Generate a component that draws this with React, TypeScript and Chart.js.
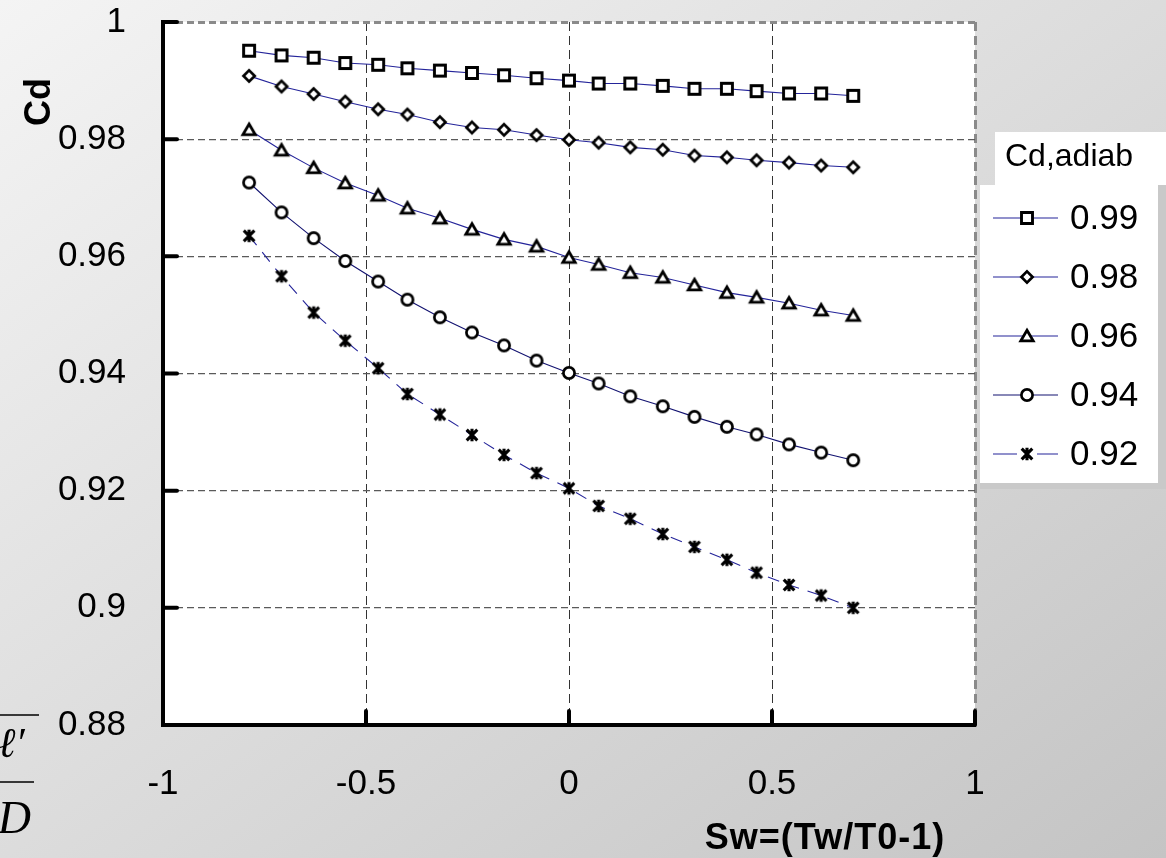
import React, { useEffect, useRef } from 'react';
import { Chart, registerables } from 'chart.js';

Chart.register(...registerables);

// ---- data ----
const xValues = [-0.788, -0.708, -0.629, -0.551, -0.47, -0.398, -0.318, -0.239, -0.16, -0.08, 0, 0.073, 0.151, 0.231, 0.309, 0.389, 0.462, 0.542, 0.621, 0.7];
const cd099 = [0.9951, 0.9943, 0.9939, 0.993, 0.9927, 0.9921, 0.9917, 0.9913, 0.9909, 0.9904, 0.99, 0.9895, 0.9895, 0.9891, 0.9886, 0.9886, 0.9882, 0.9878, 0.9878, 0.9874];
const cd098 = [0.9908, 0.989, 0.9877, 0.9864, 0.9851, 0.9842, 0.9829, 0.982, 0.9816, 0.9807, 0.9799, 0.9794, 0.9786, 0.9782, 0.9772, 0.9769, 0.9764, 0.976, 0.9755, 0.9752];
const cd096 = [0.9816, 0.9781, 0.9751, 0.9725, 0.9704, 0.9682, 0.9665, 0.9646, 0.9629, 0.9617, 0.9598, 0.9586, 0.9572, 0.9564, 0.9551, 0.9538, 0.953, 0.952, 0.9508, 0.9499];
const cd094 = [0.9726, 0.9675, 0.9631, 0.9592, 0.9557, 0.9526, 0.9496, 0.947, 0.9448, 0.9422, 0.9401, 0.9383, 0.9361, 0.9344, 0.9326, 0.9309, 0.9296, 0.9279, 0.9265, 0.9252];
const cd092 = [0.9635, 0.9566, 0.9504, 0.9456, 0.9409, 0.9365, 0.933, 0.9295, 0.9261, 0.923, 0.9204, 0.9174, 0.9152, 0.9126, 0.9104, 0.9082, 0.906, 0.9039, 0.9021, 0.9];
const seriesLabels = ['0.99', '0.98', '0.96', '0.94', '0.92'];
const seriesMarkers = ['square', 'diamond', 'triangle', 'circle', 'asterisk'];

const xTickValues = [-1, -0.5, 0, 0.5, 1];
const xTickLabels = ['-1', '-0.5', '0', '0.5', '1'];
const yTickValues = [0.88, 0.9, 0.92, 0.94, 0.96, 0.98, 1];
const yTickLabels = ['0.88', '0.9', '0.92', '0.94', '0.96', '0.98', '1'];

const xTitle = 'Sw=(Tw/T0-1)';
const yTitle = 'Cd';
const legendTitle = 'Cd,adiab';

const FONT = "'Liberation Sans', Arial, sans-serif";
const SERIF = "'Liberation Serif', 'Times New Roman', serif";

function makeMarker(kind: string): HTMLCanvasElement {
  const c = document.createElement('canvas');
  c.width = 20;
  c.height = 20;
  const g = c.getContext('2d') as CanvasRenderingContext2D;
  g.translate(10, 10);
  g.strokeStyle = '#000';
  g.fillStyle = '#fff';
  g.lineWidth = 2.9;
  g.beginPath();
  if (kind === 'square') {
    g.rect(-5.5, -5.5, 11, 11);
    g.fill();
    g.stroke();
  } else if (kind === 'diamond') {
    g.lineWidth = 2.7;
    g.moveTo(0, -5.6);
    g.lineTo(5.6, 0);
    g.lineTo(0, 5.6);
    g.lineTo(-5.6, 0);
    g.closePath();
    g.fill();
    g.stroke();
  } else if (kind === 'triangle') {
    g.lineWidth = 2.8;
    g.moveTo(0, -5.8);
    g.lineTo(6.2, 4.8);
    g.lineTo(-6.2, 4.8);
    g.closePath();
    g.fill();
    g.stroke();
  } else if (kind === 'circle') {
    g.lineWidth = 2.7;
    g.arc(0, 0, 5.6, 0, Math.PI * 2);
    g.fill();
    g.stroke();
  } else {
    g.lineWidth = 3.1;
    g.moveTo(-5.3, -5.3);
    g.lineTo(5.3, 5.3);
    g.moveTo(5.3, -5.3);
    g.lineTo(-5.3, 5.3);
    g.moveTo(0, -6.3);
    g.lineTo(0, 6.3);
    g.stroke();
  }
  return c;
}

const decorPlugin = {
  id: 'decor',
  beforeDraw(chart: any) {
    const { ctx, chartArea: a } = chart;
    ctx.save();
    ctx.fillStyle = '#ffffff';
    ctx.fillRect(a.left, a.top, a.right - a.left, a.bottom - a.top);
    ctx.restore();
  },
  beforeDatasetsDraw(chart: any) {
    const { ctx, chartArea: a, scales } = chart;
    ctx.save();
    ctx.strokeStyle = '#000';
    ctx.lineWidth = 4;
    ctx.lineCap = 'round';
    for (const v of yTickValues) {
      const py = scales.y.getPixelForValue(v);
      ctx.beginPath();
      ctx.moveTo(a.left, py);
      ctx.lineTo(a.left + 14, py);
      ctx.stroke();
    }
    for (const v of xTickValues) {
      const px = scales.x.getPixelForValue(v);
      ctx.beginPath();
      ctx.moveTo(px, a.bottom);
      ctx.lineTo(px, a.bottom - 14);
      ctx.stroke();
    }
    ctx.restore();
  },
  afterDraw(chart: any) {
    const { ctx } = chart;
    ctx.save();
    ctx.fillStyle = '#000';
    // x title
    ctx.font = `bold 36px ${FONT}`;
    (ctx as any).letterSpacing = '1px';
    ctx.textAlign = 'center';
    ctx.textBaseline = 'middle';
    ctx.fillText(xTitle, 825, 839);
    (ctx as any).letterSpacing = '0px';
    // y title
    ctx.save();
    ctx.translate(50, 102);
    ctx.rotate(-Math.PI / 2);
    ctx.textAlign = 'center';
    ctx.textBaseline = 'alphabetic';
    ctx.font = `bold 36px ${FONT}`;
    ctx.fillText(yTitle, 0, 0);
    ctx.restore();

    // legend title box
    ctx.fillStyle = '#ffffff';
    ctx.fillRect(995, 132, 171, 53);
    ctx.fillStyle = '#000';
    ctx.font = `32px ${FONT}`;
    ctx.textAlign = 'left';
    ctx.textBaseline = 'alphabetic';
    ctx.fillText(legendTitle, 1005, 166);

    // legend box
    ctx.fillStyle = '#c9c9c9';
    ctx.fillRect(980, 185, 186, 304);
    ctx.fillStyle = '#ffffff';
    ctx.fillRect(980, 185, 178, 298);
    const ds = chart.data.datasets;
    for (let i = 0; i < ds.length; i++) {
      const d = ds[i];
      const ry = 218 + i * 59;
      ctx.save();
      ctx.strokeStyle = d.borderColor;
      ctx.lineWidth = 1.2;
      ctx.setLineDash(d.borderDash && d.borderDash.length ? [24, 20] : []);
      ctx.beginPath();
      ctx.moveTo(993, ry);
      ctx.lineTo(1058, ry);
      ctx.stroke();
      ctx.restore();
      const img = d.pointStyle as HTMLCanvasElement;
      ctx.drawImage(img, 1027 - img.width / 2, ry - img.height / 2);
      ctx.fillStyle = '#000';
      ctx.font = `35px ${FONT}`;
      ctx.textAlign = 'left';
      ctx.textBaseline = 'middle';
      ctx.fillText(d.label, 1070, ry + 1);
    }

    // fragment of formula at bottom-left
    ctx.strokeStyle = '#000';
    ctx.lineWidth = 1.5;
    ctx.beginPath();
    ctx.moveTo(0, 715);
    ctx.lineTo(39, 715);
    ctx.moveTo(0, 782);
    ctx.lineTo(34, 782);
    ctx.stroke();
    ctx.fillStyle = '#000';
    ctx.font = `italic 42px ${SERIF}`;
    ctx.textAlign = 'left';
    ctx.textBaseline = 'alphabetic';
    ctx.fillText('\u2113\u2032', -2, 757);
    ctx.font = `italic 46px ${SERIF}`;
    ctx.textAlign = 'right';
    ctx.fillText('D', 31, 833);
    ctx.restore();
  },
};

export default function App() {
  const ref = useRef<HTMLCanvasElement | null>(null);

  useEffect(() => {
    if (!ref.current) return;
    const allSeries = [cd099, cd098, cd096, cd094, cd092];
    const colors = ['#24249a', '#24249a', '#24249a', '#121270', '#24249a'];
    const datasets = allSeries.map((s, k) => ({
      label: seriesLabels[k],
      data: xValues.map((x, i) => ({ x, y: s[i] })),
      borderColor: colors[k],
      borderWidth: 1.1,
      borderDash: k === 4 ? [12, 9] : [],
      pointStyle: makeMarker(seriesMarkers[k]),
      pointRadius: 7,
      showLine: true,
      fill: false,
      tension: 0,
    }));

    const chart = new Chart(ref.current, {
      type: 'line',
      data: { datasets },
      options: {
        animation: false,
        responsive: false,
        devicePixelRatio: 1,
        events: [],
        layout: { padding: { left: 0, top: 22, right: 191, bottom: 0 } },
        plugins: { legend: { display: false }, tooltip: { enabled: false } },
        scales: {
          x: {
            type: 'linear',
            min: -1,
            max: 1,
            afterBuildTicks: (scale: any) => {
              scale.ticks = xTickValues.map((v) => ({ value: v }));
            },
            afterFit: (scale: any) => {
              scale.height = 133;
              scale.paddingLeft = 0;
              scale.paddingRight = 0;
            },
            ticks: {
              autoSkip: false,
              maxRotation: 0,
              padding: 38,
              color: '#000',
              font: { family: FONT, size: 35 },
              callback: (v: any) => xTickLabels[xTickValues.indexOf(Number(v))],
            },
            grid: {
              drawTicks: false,
              color: (c: any) => {
                const v = c.tick ? c.tick.value : null;
                if (v === -1) return 'rgba(0,0,0,0)';
                if (v === 1) return '#8a8a8a';
                return '#333333';
              },
              lineWidth: (c: any) => (c.tick && c.tick.value === 1 ? 3 : 1),
            },
            border: { display: true, color: '#000', width: 4, dash: [9, 5] },
          },
          y: {
            type: 'linear',
            min: 0.88,
            max: 1,
            afterBuildTicks: (scale: any) => {
              scale.ticks = yTickValues.map((v) => ({ value: v }));
            },
            afterFit: (scale: any) => {
              scale.width = 163;
              scale.paddingTop = 0;
              scale.paddingBottom = 0;
            },
            ticks: {
              autoSkip: false,
              padding: 37,
              color: '#000',
              font: { family: FONT, size: 35 },
              callback: (v: any) => yTickLabels[yTickValues.indexOf(Number(v))],
            },
            grid: {
              drawTicks: false,
              color: (c: any) => (c.tick && c.tick.value === 1 ? '#8a8a8a' : '#5a5a5a'),
              lineWidth: (c: any) => (c.tick && c.tick.value === 1 ? 3 : 1.2),
            },
            border: { display: true, color: '#000', width: 4, dash: [7, 4] },
          },
        },
      },
      plugins: [decorPlugin],
    } as any);

    return () => chart.destroy();
  }, []);

  return (
    <div
      style={{
        position: 'fixed',
        left: 0,
        top: 0,
        width: 1166,
        height: 858,
        background: 'linear-gradient(to bottom right, #f4f4f4 0%, #dcdcdc 50%, #c4c4c4 100%)',
        overflow: 'hidden',
      }}
    >
      <canvas ref={ref} width={1166} height={858} style={{ display: 'block' }} />
    </div>
  );
}
